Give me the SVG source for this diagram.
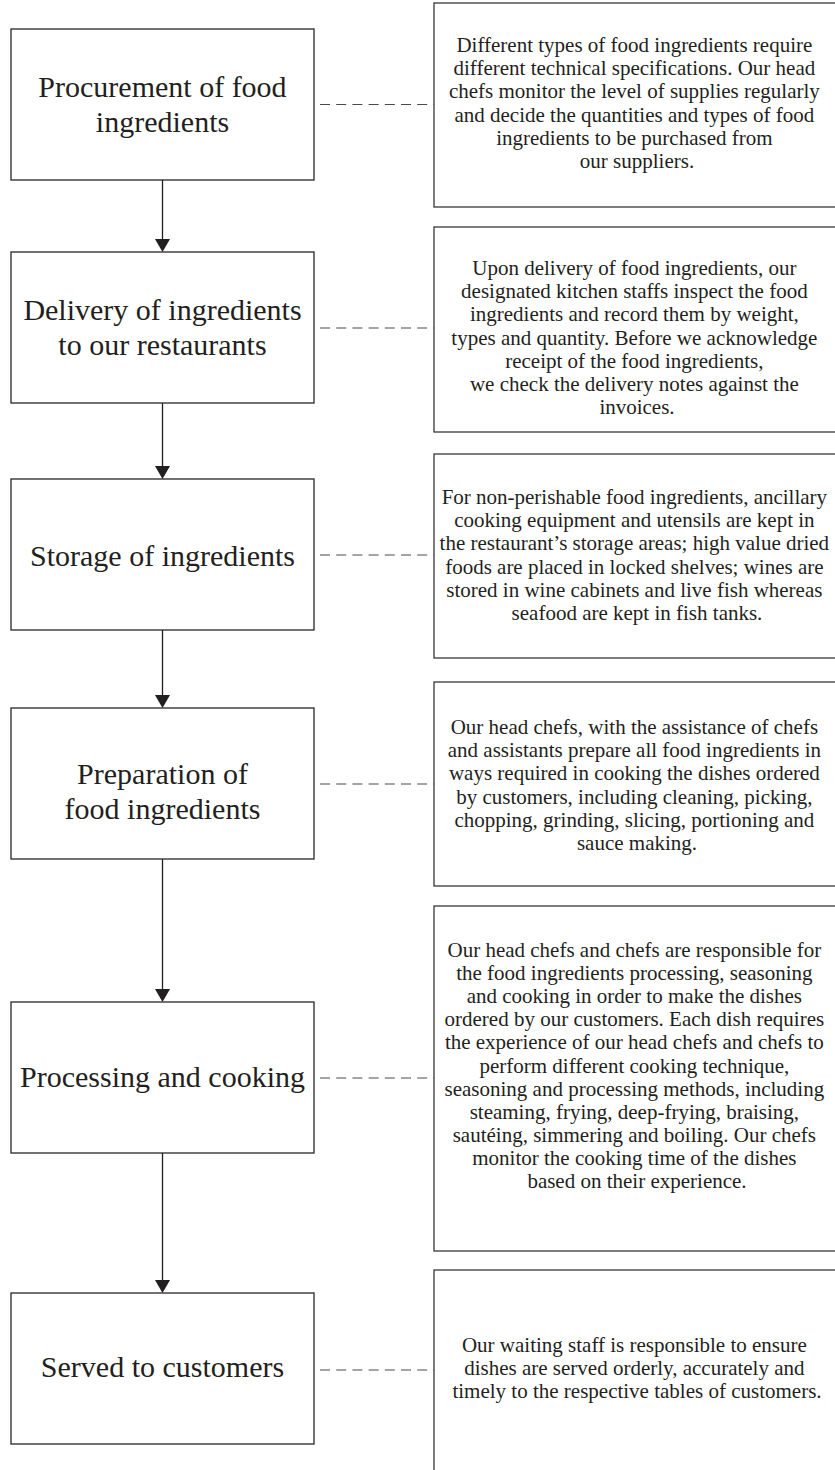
<svg xmlns="http://www.w3.org/2000/svg" width="835" height="1470" viewBox="0 0 835 1470">
<style>
.box{fill:#fff;stroke:#2a2627;stroke-width:1.3}
.rbox{fill:#fff;stroke:#3a3637;stroke-width:1.3}
.lt{font-family:"Liberation Serif","Times New Roman",serif;font-size:30px;fill:#231f20;text-anchor:middle}
.rt{font-family:"Liberation Serif","Times New Roman",serif;font-size:21px;fill:#231f20;text-anchor:middle}
.flow{stroke:#231f20;stroke-width:1.3;fill:none}
.dash{stroke:#4a4a4a;stroke-width:1.2;stroke-dasharray:10 6.2;fill:none}
.head{fill:#231f20}
</style>
<rect width="835" height="1470" fill="#fff"/>

<g id="connectors">
  <line class="flow" x1="162.5" y1="180" x2="162.5" y2="240"/>
  <polygon class="head" points="155,239 170,239 162.5,252"/>
  <line class="flow" x1="162.5" y1="403" x2="162.5" y2="467"/>
  <polygon class="head" points="155,466 170,466 162.5,479"/>
  <line class="flow" x1="162.5" y1="630" x2="162.5" y2="696"/>
  <polygon class="head" points="155,695 170,695 162.5,708"/>
  <line class="flow" x1="162.5" y1="859" x2="162.5" y2="990"/>
  <polygon class="head" points="155,989 170,989 162.5,1002"/>
  <line class="flow" x1="162.5" y1="1153" x2="162.5" y2="1281"/>
  <polygon class="head" points="155,1280 170,1280 162.5,1293"/>
  <line class="dash" x1="320" y1="104.5" x2="434" y2="104.5"/>
  <line class="dash" x1="320" y1="328" x2="434" y2="328"/>
  <line class="dash" x1="320" y1="555" x2="434" y2="555"/>
  <line class="dash" x1="320" y1="784" x2="434" y2="784"/>
  <line class="dash" x1="320" y1="1078" x2="434" y2="1078"/>
  <line class="dash" x1="320" y1="1370" x2="434" y2="1370"/>
</g>

<g id="step1">
  <rect class="box" x="11" y="29" width="303" height="151"/>
  <text class="lt" x="162.5" y="97">Procurement of food</text>
  <text class="lt" x="162.5" y="132">ingredients</text>
</g>
<g id="step2">
  <rect class="box" x="11" y="252" width="303" height="151"/>
  <text class="lt" x="162.5" y="320">Delivery of ingredients</text>
  <text class="lt" x="162.5" y="355">to our restaurants</text>
</g>
<g id="step3">
  <rect class="box" x="11" y="479" width="303" height="151"/>
  <text class="lt" x="162.5" y="566">Storage of ingredients</text>
</g>
<g id="step4">
  <rect class="box" x="11" y="708" width="303" height="151"/>
  <text class="lt" x="162.5" y="784">Preparation of</text>
  <text class="lt" x="162.5" y="819">food ingredients</text>
</g>
<g id="step5">
  <rect class="box" x="11" y="1002" width="303" height="151"/>
  <text class="lt" x="162.5" y="1087">Processing and cooking</text>
</g>
<g id="step6">
  <rect class="box" x="11" y="1293" width="303" height="151"/>
  <text class="lt" x="162.5" y="1377">Served to customers</text>
</g>

<g id="note1">
  <rect class="rbox" x="434" y="3" width="406" height="204"/>
  <text class="rt">
    <tspan x="637" y="52">Different types of food ingredients require</tspan>
    <tspan x="637" y="75.2">different technical specifications. Our head</tspan>
    <tspan x="637" y="98.4">chefs monitor the level of supplies regularly</tspan>
    <tspan x="637" y="121.6">and decide the quantities and types of food</tspan>
    <tspan x="637" y="144.8">ingredients to be purchased from</tspan>
    <tspan x="637" y="168">our suppliers.</tspan>
  </text>
</g>
<g id="note2">
  <rect class="rbox" x="434" y="227" width="406" height="205"/>
  <text class="rt">
    <tspan x="637" y="275">Upon delivery of food ingredients, our</tspan>
    <tspan x="637" y="298.2">designated kitchen staffs inspect the food</tspan>
    <tspan x="637" y="321.4">ingredients and record them by weight,</tspan>
    <tspan x="637" y="344.6">types and quantity. Before we acknowledge</tspan>
    <tspan x="637" y="367.8">receipt of the food ingredients,</tspan>
    <tspan x="637" y="391">we check the delivery notes against the</tspan>
    <tspan x="637" y="414.2">invoices.</tspan>
  </text>
</g>
<g id="note3">
  <rect class="rbox" x="434" y="454" width="406" height="204"/>
  <text class="rt">
    <tspan x="637" y="504">For non-perishable food ingredients, ancillary</tspan>
    <tspan x="637" y="527.2">cooking equipment and utensils are kept in</tspan>
    <tspan x="637" y="550.4">the restaurant’s storage areas; high value dried</tspan>
    <tspan x="637" y="573.6">foods are placed in locked shelves; wines are</tspan>
    <tspan x="637" y="596.8">stored in wine cabinets and live fish whereas</tspan>
    <tspan x="637" y="620">seafood are kept in fish tanks.</tspan>
  </text>
</g>
<g id="note4">
  <rect class="rbox" x="434" y="682" width="406" height="204"/>
  <text class="rt">
    <tspan x="637" y="734">Our head chefs, with the assistance of chefs</tspan>
    <tspan x="637" y="757.2">and assistants prepare all food ingredients in</tspan>
    <tspan x="637" y="780.4">ways required in cooking the dishes ordered</tspan>
    <tspan x="637" y="803.6">by customers, including cleaning, picking,</tspan>
    <tspan x="637" y="826.8">chopping, grinding, slicing, portioning and</tspan>
    <tspan x="637" y="850">sauce making.</tspan>
  </text>
</g>
<g id="note5">
  <rect class="rbox" x="434" y="906" width="406" height="345"/>
  <text class="rt">
    <tspan x="637" y="957">Our head chefs and chefs are responsible for</tspan>
    <tspan x="637" y="980.1">the food ingredients processing, seasoning</tspan>
    <tspan x="637" y="1003.2">and cooking in order to make the dishes</tspan>
    <tspan x="637" y="1026.3">ordered by our customers. Each dish requires</tspan>
    <tspan x="637" y="1049.4">the experience of our head chefs and chefs to</tspan>
    <tspan x="637" y="1072.5">perform different cooking technique,</tspan>
    <tspan x="637" y="1095.6">seasoning and processing methods, including</tspan>
    <tspan x="637" y="1118.7">steaming, frying, deep-frying, braising,</tspan>
    <tspan x="637" y="1141.8">sautéing, simmering and boiling. Our chefs</tspan>
    <tspan x="637" y="1164.9">monitor the cooking time of the dishes</tspan>
    <tspan x="637" y="1188">based on their experience.</tspan>
  </text>
</g>
<g id="note6">
  <rect class="rbox" x="434" y="1270" width="406" height="210"/>
  <text class="rt">
    <tspan x="637" y="1352">Our waiting staff is responsible to ensure</tspan>
    <tspan x="637" y="1375">dishes are served orderly, accurately and</tspan>
    <tspan x="637" y="1398">timely to the respective tables of customers.</tspan>
  </text>
</g>
</svg>
